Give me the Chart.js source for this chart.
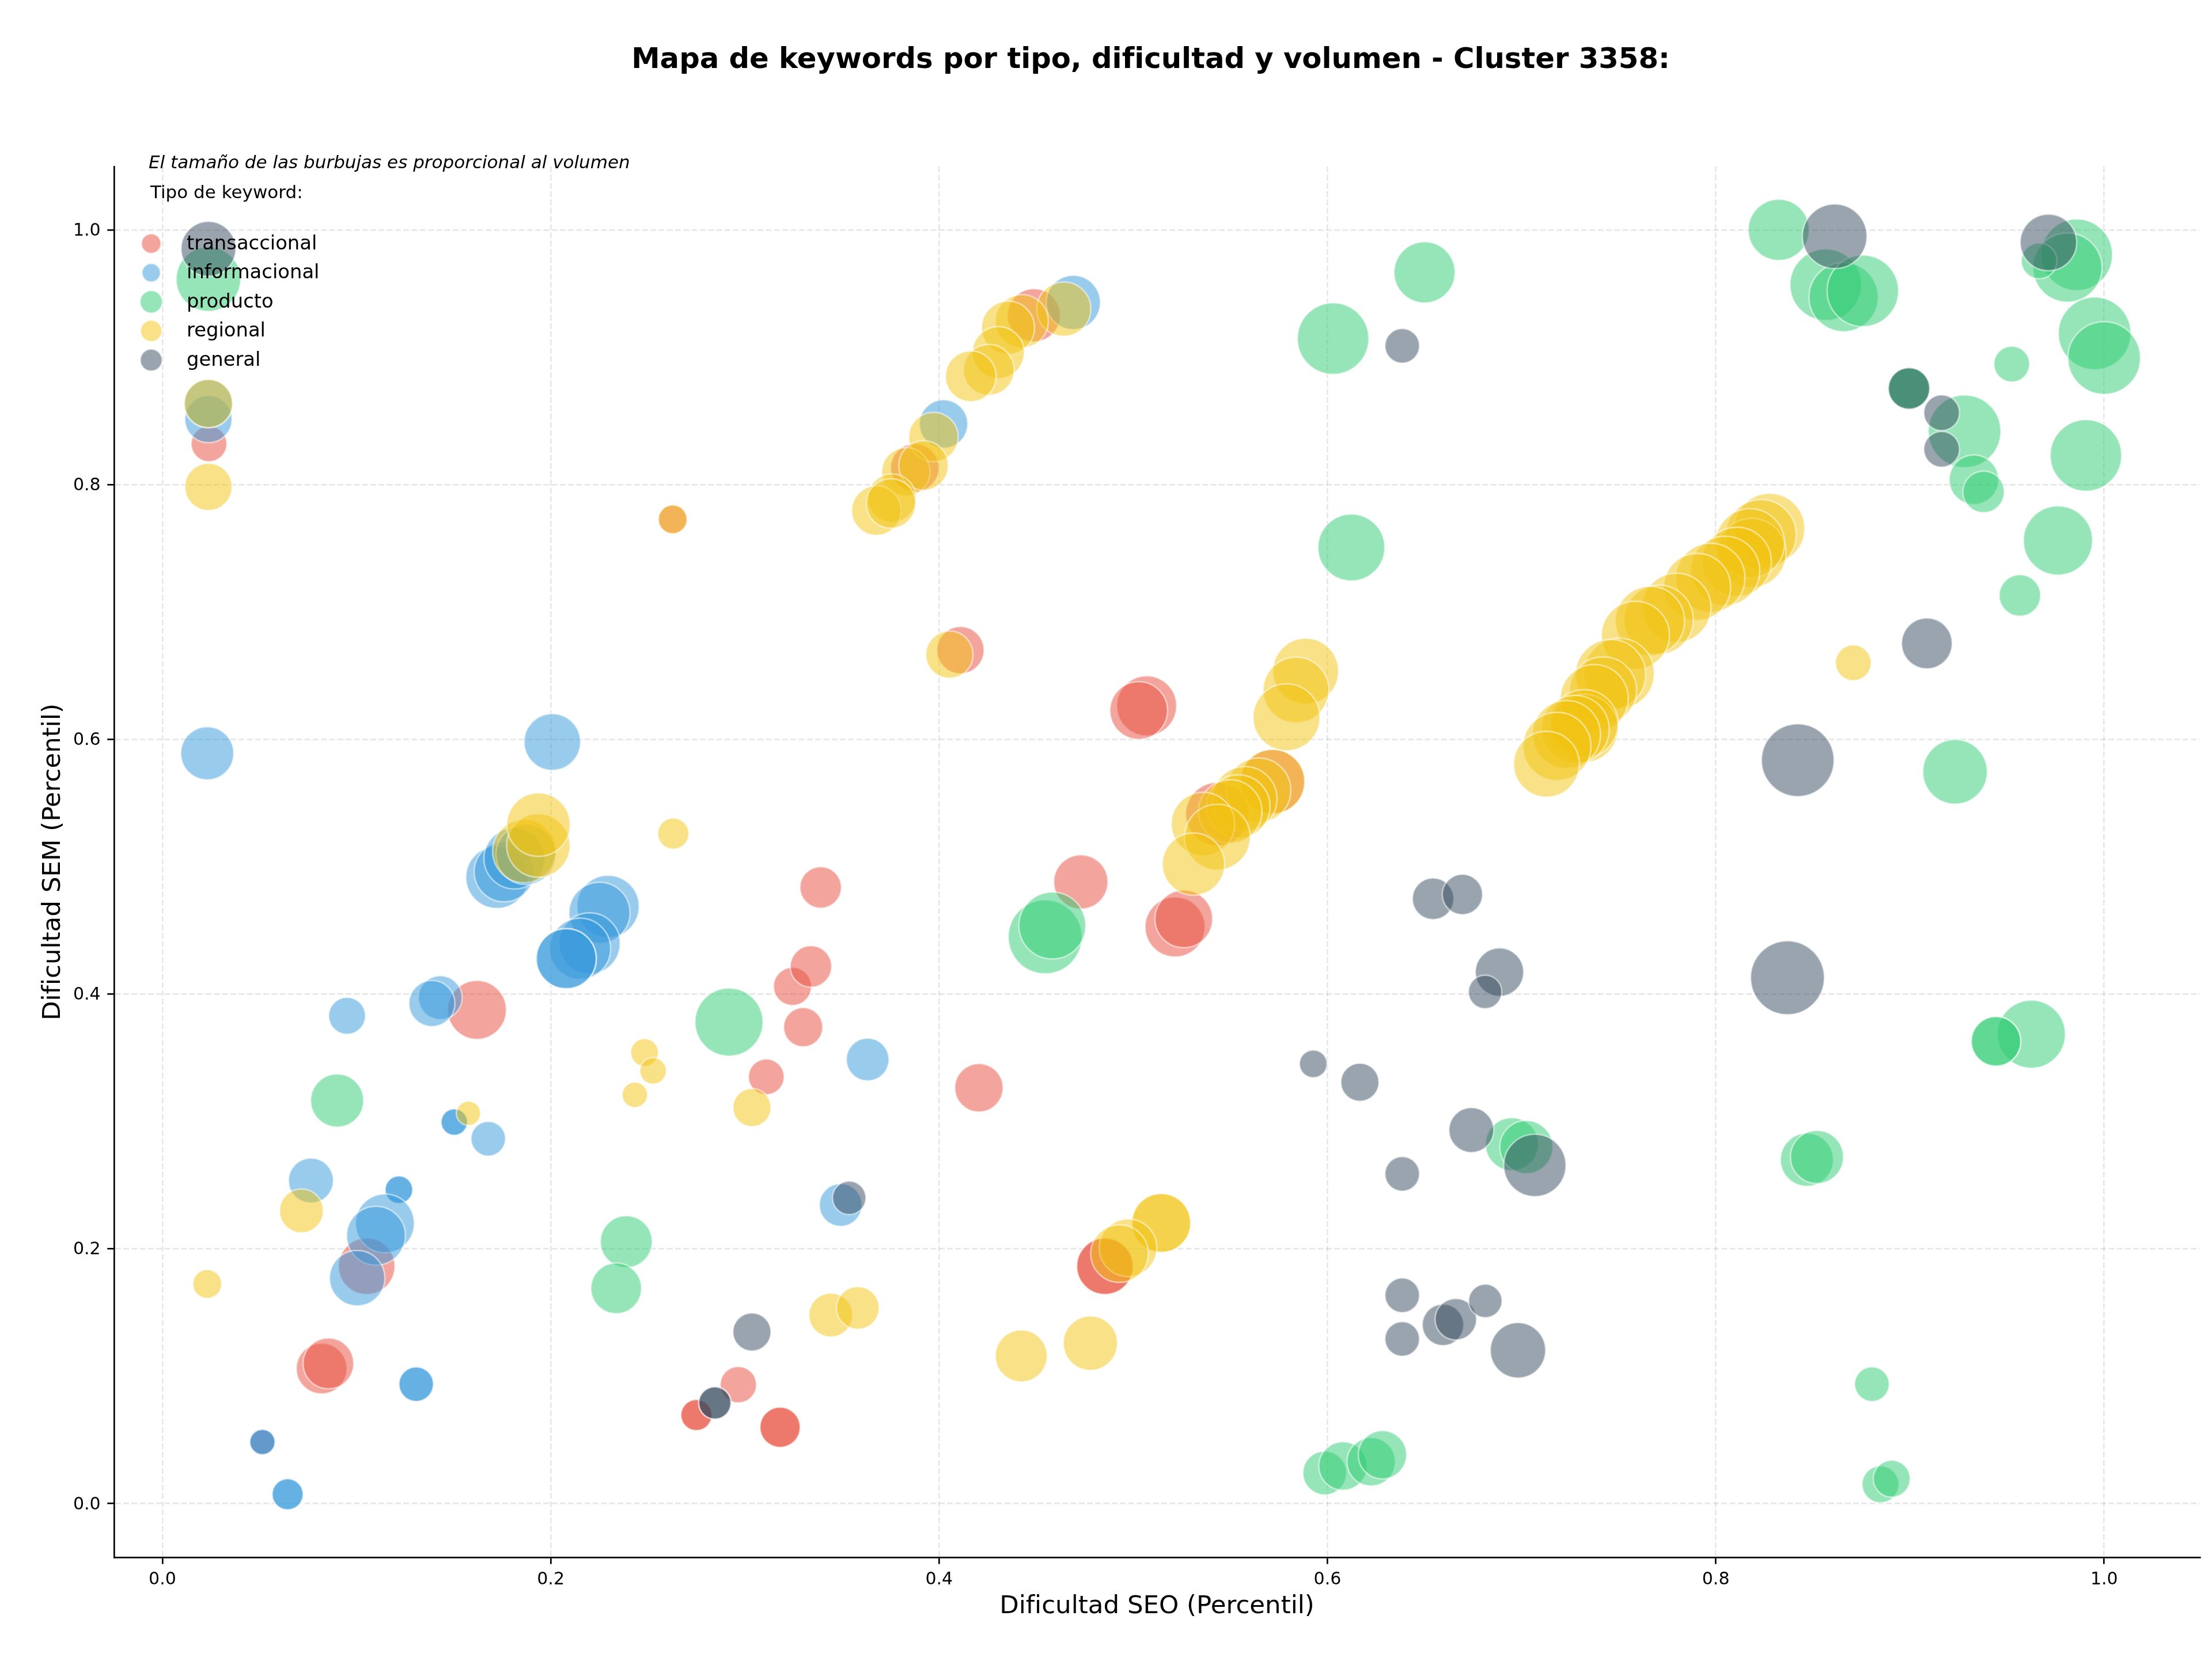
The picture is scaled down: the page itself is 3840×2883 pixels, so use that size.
<!DOCTYPE html>
<html lang="es">
<head>
<meta charset="utf-8">
<title>Mapa de keywords</title>
<script src="https://cdn.jsdelivr.net/npm/chart.js@4/dist/chart.umd.min.js"></script>
<style>
  html, body { margin: 0; padding: 0; background: #fff; }
  canvas { display: block; }
</style>
</head>
<body>
<canvas id="myChart" width="3840" height="2883"></canvas>
<script>
const tipos = ["transaccional", "informacional", "producto", "regional", "general"];
const tickValues = [0, 0.2, 0.4, 0.6, 0.8, 1];

// dificultad SEO, dificultad SEM y volumen de cada keyword, por tipo
const transSeo = [.024,.162,.1052,.082,.0855,.2966,.275,.275,.3181,.3181,.33,.3245,.334,.339,.311,.4205,.473,.5215,.526,.5069,.5028,.4854,.4854,.411,.4488,.3875,.5717,.5433,.2628,.0515];
const transSem = [.832,.3876,.1863,.106,.11,.0933,.0695,.0695,.0599,.0599,.374,.406,.4217,.4837,.335,.3264,.488,.4527,.459,.6263,.6226,.1863,.1863,.67,.9329,.8132,.5668,.5413,.7727,.0483];
const transVol = [961,2601,2401,1936,1936,992,729,729,1225,1225,1156,1089,1296,1296,961,1764,2209,2704,2500,2704,2500,2401,2401,1681,2116,1764,3136,3025,625,484];

const infoSeo = [.0237,.0237,.0231,.1723,.176,.1813,.1872,.2295,.2251,.22,.2151,.208,.208,.1431,.1388,.0951,.2008,.3632,.0765,.1678,.1503,.1503,.1218,.1218,.1146,.11,.1003,.1307,.1307,.0515,.0515,.0645,.0645,.3493,.4691,.4023];
const infoSem = [.8514,.8636,.589,.4917,.496,.5065,.5096,.4688,.4638,.4398,.4356,.4278,.4278,.3972,.3926,.3829,.5979,.3486,.2536,.2864,.2995,.2995,.2464,.2464,.22,.2103,.177,.0937,.0937,.0483,.0483,.0073,.0073,.2344,.943,.8476];
const infoVol = [1681,1764,2116,2916,2704,2809,2704,2916,2809,2809,2809,2704,2704,1444,1600,1024,2401,1369,1521,900,529,529,576,576,2601,2601,2304,900,900,484,484,729,729,1369,2209,1764];

const prodSeo = [.0237,.8324,.8566,.8658,.8757,.9859,.9811,.9665,.9951,1,.9524,.8995,.8995,.9281,.9329,.9379,.9906,.9762,.9566,.6029,.65,.6123,.9232,.9625,.9443,.9443,.8469,.8521,.695,.7024,.8804,.8848,.8906,.5986,.608,.6225,.6283,.2389,.2337,.09,.2918,.4546,.4583];
const prodSem = [.9613,1,.9569,.9472,.9521,.9804,.9704,.9756,.9187,.8994,.8946,.8755,.8755,.8418,.8038,.7943,.8229,.7561,.713,.9146,.9666,.7506,.5745,.3685,.3629,.3629,.2699,.2721,.2821,.2799,.0937,.0151,.0195,.024,.0295,.0328,.0383,.2056,.169,.3164,.378,.4449,.4538];
const prodVol = [3136,2809,3844,3600,3844,3844,3600,961,3969,3969,961,1296,1296,3969,1849,1296,3844,3600,1296,3844,2809,3364,3136,3481,1849,1849,2116,2116,2116,2116,900,1024,1024,1444,1764,1764,1764,2025,1936,2116,3481,4096,3364];

const regSeo = [.0237,.0237,.0231,.0716,.1576,.2483,.2527,.2433,.3036,.3442,.3581,.4423,.4779,.4053,.5144,.5144,.4973,.4929,.2631,.1864,.1936,.1937,.2628,
  .4642,.4426,.4355,.4305,.4256,.4163,.3971,.3829,.392,.3757,.3677,.3752,
  .5888,.5838,.5789,.5717,.5645,.5574,.5541,.5499,.5359,.5433,.531,
  .8277,.8233,.8184,.8176,.8108,.8048,.7972,.7904,.7797,.7706,.7661,.7586,.7502,.7458,.742,.7374,.7322,.7322,.7276,.7231,.7182,.7128,.8708];
const regSem = [.7982,.8636,.1724,.2298,.3064,.3541,.3397,.3209,.3109,.148,.1536,.1159,.1259,.6665,.2203,.2203,.2008,.1962,.526,.5122,.5166,.533,.7727,
  .9378,.9283,.9232,.9037,.8901,.885,.8373,.81,.815,.7894,.7796,.7852,
  .6535,.6387,.6173,.5668,.56,.5533,.5472,.5434,.5336,.5232,.502,
  .7655,.7606,.7464,.7539,.7394,.7323,.7268,.7197,.7033,.6939,.693,.6817,.6517,.6508,.6385,.632,.6086,.6123,.6078,.6038,.5945,.5805,.6601];
const regVol = [1681,1764,625,1444,441,576,529,484,1089,1444,1369,2025,2209,1681,2601,2601,2500,2500,729,3025,3025,3025,625,
  2209,2116,2116,2025,1936,1936,1849,1764,1849,1764,1849,1849,
  3249,3249,3364,3136,3136,3136,3025,3025,3025,3249,2916,
  3721,3721,3600,3600,3600,3600,3600,3364,3600,3600,3600,3481,3721,3721,3364,3481,3481,3481,3481,3481,3481,3249,961];

const genSeo = [.0237,.6385,.9087,.8422,.8369,.6544,.6695,.6886,.6812,.5927,.6167,.6741,.6385,.7068,.6385,.6385,.6595,.6661,.6813,.6981,.3036,.2845,.2845,.3537,.8612,.9713,.8995,.9163,.9163];
const genSem = [.9851,.9089,.6753,.5836,.4128,.4748,.4782,.4172,.4017,.3452,.3308,.2932,.2588,.2655,.1635,.1292,.1403,.1447,.1591,.1203,.1347,.079,.079,.24,.9949,.9901,.8755,.8564,.8277];
const genVol = [2256,900,1936,3969,4096,1296,1225,1764,841,576,1089,1521,900,2916,900,900,1296,1296,841,2304,1089,784,784,841,3136,2401,1296,961,961];

const colores = ["231,76,60", "52,152,219", "46,204,113", "241,196,15", "52,73,94"];
const leyendaRadio = [17, 16, 19.5, 18.5, 19];
const font = "DejaVu Sans";

function puntos(seo, sem, vol) {
  return seo.map((x, i) => ({ x: x, y: sem[i], r: Math.sqrt(vol[i]) }));
}

function dataset(i, seo, sem, vol) {
  return {
    label: tipos[i],
    data: puntos(seo, sem, vol),
    order: tipos.length - i,   // el último tipo queda encima
    backgroundColor: `rgba(${colores[i]},0.5)`,
    borderColor: "rgba(255,255,255,0.5)",
    borderWidth: 2.7,
    hoverRadius: 0
  };
}

function ejeLineal(min, max, texto, padTitulo, padTicks, offsetTicks) {
  return {
    type: "linear",
    min: min,
    max: max,
    afterBuildTicks: (s) => { s.ticks = tickValues.map((v) => ({ value: v })); },
    ticks: {
      autoSkip: false,
      maxRotation: 0,
      padding: padTicks,
      labelOffset: offsetTicks,
      color: "#000",
      font: { family: font, size: 30 },
      callback: (v) => Number(v).toFixed(1)
    },
    grid: {
      color: "rgba(176,176,176,0.3)",
      lineWidth: 2.67,
      tickColor: "#000",
      tickWidth: 2.67,
      tickLength: 11.7
    },
    border: { display: true, color: "#000", width: 2.67, dash: [10, 4.3] },
    title: {
      display: true,
      text: texto,
      color: "#000",
      font: { family: font, size: 43.5, lineHeight: 1.2 },
      padding: padTitulo
    }
  };
}

// notas y leyenda dibujadas sobre las burbujas
const notas = {
  id: "notas",
  afterLayout(chart) {
    chart.titleBlock.left += 88;
    chart.titleBlock.right += 88;
  },
  afterDatasetsDraw(chart) {
    const ctx = chart.ctx;
    ctx.save();
    ctx.fillStyle = "#000";
    ctx.textBaseline = "alphabetic";
    ctx.textAlign = "left";
    ctx.font = `italic 31px "${font}"`;
    ctx.fillText("El tamaño de las burbujas es proporcional al volumen", 258, 292);
    ctx.font = `31px "${font}"`;
    ctx.fillText("Tipo de keyword:", 261, 344);
    ctx.font = `33.8px "${font}"`;
    tipos.forEach((t, i) => {
      const y = 422.8 + i * 50.55;
      ctx.beginPath();
      ctx.arc(262.5, y, leyendaRadio[i], 0, Math.PI * 2);
      ctx.fillStyle = `rgba(${colores[i]},0.5)`;
      ctx.fill();
      ctx.strokeStyle = "rgba(255,255,255,0.5)";
      ctx.lineWidth = 2.7;
      ctx.stroke();
      ctx.fillStyle = "#000";
      ctx.fillText(t, 324, y + 10);
    });
    ctx.restore();
  }
};

new Chart(document.getElementById("myChart"), {
  type: "bubble",
  data: {
    datasets: [
      dataset(0, transSeo, transSem, transVol),
      dataset(1, infoSeo, infoSem, infoVol),
      dataset(2, prodSeo, prodSem, prodVol),
      dataset(3, regSeo, regSem, regVol),
      dataset(4, genSeo, genSem, genVol)
    ]
  },
  options: {
    responsive: false,
    animation: false,
    layout: { autoPadding: false, padding: { left: 0, top: 0, right: 21, bottom: 0 } },
    plugins: {
      legend: { display: false },
      tooltip: { enabled: false },
      title: {
        display: true,
        text: "Mapa de keywords por tipo, dificultad y volumen - Cluster 3358:",
        color: "#000",
        font: { family: font, size: 49.7, weight: "bold", lineHeight: 1.2 },
        padding: { top: 75, bottom: 154.4 }
      }
    },
    scales: {
      x: Object.assign(ejeLineal(-0.0249, 1.0493, "Dificultad SEO (Percentil)", { top: 0, bottom: 68 }, 10, 0), {
        afterFit: (s) => { s.height = 180; }
      }),
      y: Object.assign(ejeLineal(-0.0422, 1.0497, "Dificultad SEM (Percentil)", { top: 67, bottom: 0 }, 11.7, 2), {
        afterFit: (s) => { s.width = 198; }
      })
    }
  },
  plugins: [notas]
});
</script>
</body>
</html>
